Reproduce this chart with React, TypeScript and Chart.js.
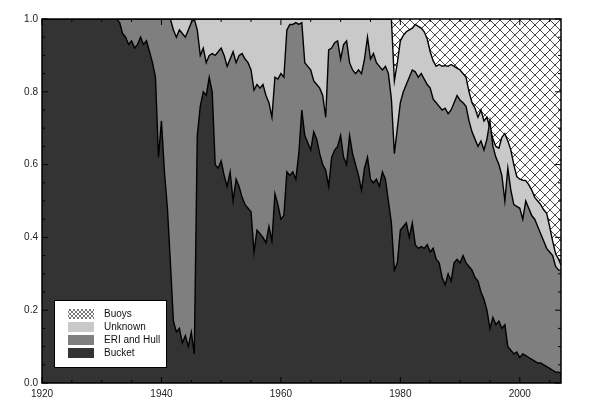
import { useEffect, useRef } from 'react';
import Chart from 'chart.js/auto';

// x grid: one anchor year, then half-year steps from 1932 to 2007
const gridStart = 1932;
const gridStep = 0.5;
const years = [1920, ...Array.from({ length: 151 }, (_, i) => gridStart + i * gridStep)];

// cumulative fraction at the top of each layer
const bucketLevel = [
  1.0,
  1.0, 1.0,
  0.99, 0.96, 0.95, 0.93, 0.94, 0.92, 0.93, 0.95, 0.93, 0.94,
  0.91, 0.88, 0.84, 0.62, 0.72, 0.58, 0.48, 0.33, // 1938
  0.17, 0.14, 0.15, 0.11, 0.13, 0.10, 0.14, 0.08, // 1942
  0.68, 0.76, 0.80, 0.79, 0.84, 0.80, 0.60, 0.59, // 1946
  0.61, 0.57, 0.54, 0.58, 0.50, 0.56, 0.54, 0.51, // 1950
  0.49, 0.48, 0.47, 0.36, 0.42, 0.41, 0.40, 0.385, // 1954
  0.43, 0.39, 0.52, 0.49, 0.45, 0.46, 0.58, 0.57, // 1958
  0.58, 0.56, 0.63, 0.75, 0.68, 0.66, 0.64, 0.69, // 1962
  0.67, 0.63, 0.60, 0.585, 0.54, 0.62, 0.64, 0.65, // 1966
  0.68, 0.62, 0.60, 0.68, 0.63, 0.60, 0.57, 0.53, // 1970
  0.59, 0.62, 0.56, 0.55, 0.56, 0.54, 0.58, 0.56, // 1974
  0.50, 0.44, 0.31, 0.33, 0.42, 0.43, 0.44, 0.40, // 1978
  0.44, 0.38, 0.37, 0.375, 0.37, 0.38, 0.36, 0.37, // 1982
  0.34, 0.33, 0.29, 0.27, 0.30, 0.28, 0.33, 0.34, // 1986
  0.33, 0.35, 0.33, 0.32, 0.31, 0.29, 0.28, 0.25, // 1990
  0.23, 0.20, 0.15, 0.18, 0.16, 0.17, 0.15, 0.16, // 1994
  0.10, 0.09, 0.08, 0.085, 0.07, 0.08, 0.075, 0.07, // 1998
  0.065, 0.06, 0.055, 0.055, 0.05, 0.045, 0.04, 0.035, // 2002
  0.03, 0.03, 0.025,
];

const eriHullLevel = [
  1.0,
  1.0, 1.0,
  1.0, 1.0, 1.0, 1.0, 1.0, 1.0, 1.0, 1.0, 1.0, 1.0,
  1.0, 1.0, 1.0, 1.0, 1.0, 1.0, 1.0, 1.0, // 1938
  0.97, 0.95, 0.97, 0.96, 0.95, 0.97, 0.99, 1.0, // 1942
  0.97, 0.90, 0.92, 0.88, 0.90, 0.905, 0.90, 0.91, // 1946
  0.92, 0.90, 0.87, 0.89, 0.91, 0.88, 0.90, 0.905, // 1950
  0.89, 0.88, 0.86, 0.805, 0.82, 0.81, 0.82, 0.79, // 1954
  0.77, 0.73, 0.84, 0.835, 0.85, 0.84, 0.97, 0.985, // 1958
  0.985, 0.99, 0.985, 0.99, 0.88, 0.87, 0.86, 0.83, // 1962
  0.82, 0.81, 0.79, 0.73, 0.915, 0.92, 0.935, 0.94, // 1966
  0.89, 0.93, 0.94, 0.88, 0.86, 0.85, 0.86, 0.85, // 1970
  0.89, 0.95, 0.89, 0.905, 0.88, 0.87, 0.86, 0.87, // 1974
  0.85, 0.78, 0.63, 0.70, 0.77, 0.80, 0.82, 0.84, // 1978
  0.86, 0.855, 0.84, 0.85, 0.835, 0.82, 0.81, 0.78, // 1982
  0.77, 0.76, 0.75, 0.755, 0.74, 0.75, 0.77, 0.79, // 1986
  0.777, 0.77, 0.76, 0.72, 0.69, 0.67, 0.65, 0.665, // 1990
  0.64, 0.67, 0.72, 0.65, 0.62, 0.60, 0.57, 0.50, // 1994
  0.59, 0.53, 0.49, 0.485, 0.48, 0.45, 0.50, 0.48, // 1998
  0.46, 0.45, 0.43, 0.41, 0.39, 0.37, 0.36, 0.35, // 2002
  0.32, 0.31, 0.31,
];

const unknownLevel = [
  1.0,
  1.0, 1.0,
  1.0, 1.0, 1.0, 1.0, 1.0, 1.0, 1.0, 1.0, 1.0, 1.0,
  1.0, 1.0, 1.0, 1.0, 1.0, 1.0, 1.0, 1.0, // 1938
  1.0, 1.0, 1.0, 1.0, 1.0, 1.0, 1.0, 1.0, // 1942
  1.0, 1.0, 1.0, 1.0, 1.0, 1.0, 1.0, 1.0, // 1946
  1.0, 1.0, 1.0, 1.0, 1.0, 1.0, 1.0, 1.0, // 1950
  1.0, 1.0, 1.0, 1.0, 1.0, 1.0, 1.0, 1.0, // 1954
  1.0, 1.0, 1.0, 1.0, 1.0, 1.0, 1.0, 1.0, // 1958
  1.0, 1.0, 1.0, 1.0, 1.0, 1.0, 1.0, 1.0, // 1962
  1.0, 1.0, 1.0, 1.0, 1.0, 1.0, 1.0, 1.0, // 1966
  1.0, 1.0, 1.0, 1.0, 1.0, 1.0, 1.0, 1.0, // 1970
  1.0, 1.0, 1.0, 1.0, 1.0, 1.0, 1.0, 1.0, // 1974
  1.0, 1.0, 0.83, 0.88, 0.94, 0.955, 0.965, 0.97, // 1978
  0.975, 0.985, 0.98, 0.975, 0.965, 0.945, 0.91, 0.885, // 1982
  0.87, 0.875, 0.87, 0.872, 0.87, 0.875, 0.87, 0.865, // 1986
  0.86, 0.85, 0.84, 0.80, 0.77, 0.755, 0.73, 0.75, // 1990
  0.72, 0.73, 0.70, 0.67, 0.65, 0.645, 0.675, 0.685, // 1994
  0.665, 0.64, 0.60, 0.567, 0.56, 0.557, 0.556, 0.545, // 1998
  0.53, 0.51, 0.50, 0.49, 0.476, 0.466, 0.43, 0.39, // 2002
  0.355, 0.34, 0.32,
];

const buoysYears = [1920, 2007];
const buoysLevel = [1.0, 1.0];

const xTickYears = [1920, 1940, 1960, 1980, 2000];

function makeHatch(size: number, color: string, width: number) {
  const c = document.createElement('canvas');
  c.width = size;
  c.height = size;
  const g = c.getContext('2d')!;
  g.fillStyle = '#ffffff';
  g.fillRect(0, 0, size, size);
  g.strokeStyle = color;
  g.lineWidth = width;
  g.beginPath();
  for (const k of [-size, 0, size]) {
    g.moveTo(k, 0);
    g.lineTo(k + size, size);
    g.moveTo(k, size);
    g.lineTo(k + size, 0);
  }
  g.stroke();
  return g.createPattern(c, 'repeat')!;
}

const toPoints = (xs: number[], ys: number[]) => xs.map((x, i) => ({ x, y: ys[i] }));

export default function App() {
  const canvasRef = useRef<HTMLCanvasElement | null>(null);

  useEffect(() => {
    document.body.style.margin = '0';
    if (!canvasRef.current) return;

    const bigHatch = makeHatch(10, '#4a4a4a', 1);
    const smallHatch = makeHatch(4, '#555555', 0.8);

    const framePlugin = {
      id: 'frame',
      afterDatasetsDraw(chart: any) {
        const { ctx, chartArea: a, scales } = chart;
        ctx.save();
        ctx.strokeStyle = '#000';
        ctx.lineWidth = 1;
        ctx.beginPath();
        for (let yr = 1920; yr <= 2005; yr += 5) {
          const px = scales.x.getPixelForValue(yr);
          const len = yr % 20 === 0 ? 6 : 3;
          ctx.moveTo(px, a.bottom);
          ctx.lineTo(px, a.bottom - len);
          ctx.moveTo(px, a.top);
          ctx.lineTo(px, a.top + len);
        }
        for (let i = 0; i <= 20; i++) {
          const py = scales.y.getPixelForValue(i * 0.05);
          const len = i % 4 === 0 ? 6 : 3;
          ctx.moveTo(a.left, py);
          ctx.lineTo(a.left + len, py);
          ctx.moveTo(a.right, py);
          ctx.lineTo(a.right - len, py);
        }
        ctx.stroke();
        ctx.lineWidth = 1.5;
        ctx.strokeRect(a.left, a.top, a.right - a.left, a.bottom - a.top);
        ctx.restore();
      },
    };

    const legendPlugin = {
      id: 'boxLegend',
      afterDraw(chart: any) {
        const { ctx, chartArea: a } = chart;
        const left = a.left + 12;
        const top = a.bottom - 83;
        ctx.save();
        ctx.fillStyle = '#fff';
        ctx.fillRect(left, top, 112, 67);
        ctx.strokeStyle = '#000';
        ctx.lineWidth = 1;
        ctx.strokeRect(left + 0.5, top + 0.5, 112, 67);
        const items = [...chart.data.datasets].reverse();
        ctx.font = '10px "Liberation Sans", Arial, sans-serif';
        ctx.textBaseline = 'middle';
        items.forEach((ds: any, i: number) => {
          const cy = top + 14 + i * 13;
          ctx.fillStyle = ds.label === 'Buoys' ? smallHatch : ds.backgroundColor;
          ctx.fillRect(left + 14, cy - 5, 26, 10);
          ctx.fillStyle = '#111';
          ctx.fillText(ds.label, left + 50, cy + 0.5);
        });
        ctx.restore();
      },
    };

    const line = { borderColor: '#000', borderWidth: 1.4, pointRadius: 0, tension: 0, fill: 'origin' as const };

    const chart = new Chart(canvasRef.current, {
      type: 'line',
      data: {
        datasets: [
          { ...line, label: 'Bucket', data: toPoints(years, bucketLevel), backgroundColor: '#333333' },
          { ...line, label: 'ERI and Hull', data: toPoints(years, eriHullLevel), backgroundColor: '#7f7f7f' },
          { ...line, label: 'Unknown', data: toPoints(years, unknownLevel), backgroundColor: '#c9c9c9' },
          { ...line, label: 'Buoys', data: toPoints(buoysYears, buoysLevel), backgroundColor: bigHatch, borderWidth: 0 },
        ],
      },
      options: {
        responsive: false,
        animation: false,
        events: [],
        layout: { padding: { top: 19, right: 31, left: 0, bottom: 0 } },
        plugins: { legend: { display: false }, tooltip: { enabled: false } },
        scales: {
          x: {
            type: 'linear',
            min: 1920,
            max: 2006.9,
            grid: { display: false, drawTicks: false },
            border: { display: false },
            afterFit: (s: any) => { s.height = 32; },
            afterBuildTicks: (s: any) => { s.ticks = xTickYears.map((v) => ({ value: v })); },
            ticks: {
              padding: 5,
              maxRotation: 0,
              color: '#222',
              font: { family: '"Liberation Sans", Arial, sans-serif', size: 10 },
              callback: (v: any) => String(v),
            },
          },
          y: {
            min: 0,
            max: 1,
            grid: { display: false, drawTicks: false },
            border: { display: false },
            afterFit: (s: any) => { s.width = 42; },
            ticks: {
              stepSize: 0.2,
              padding: 4,
              color: '#222',
              font: { family: '"Liberation Sans", Arial, sans-serif', size: 10 },
              callback: (v: any) => Number(v).toFixed(1),
            },
          },
        },
      },
      plugins: [framePlugin, legendPlugin],
    });

    return () => chart.destroy();
  }, []);

  return (
    <div style={{ width: 592, height: 415, background: '#fff' }}>
      <canvas ref={canvasRef} width={592} height={415} style={{ display: 'block' }} />
    </div>
  );
}
